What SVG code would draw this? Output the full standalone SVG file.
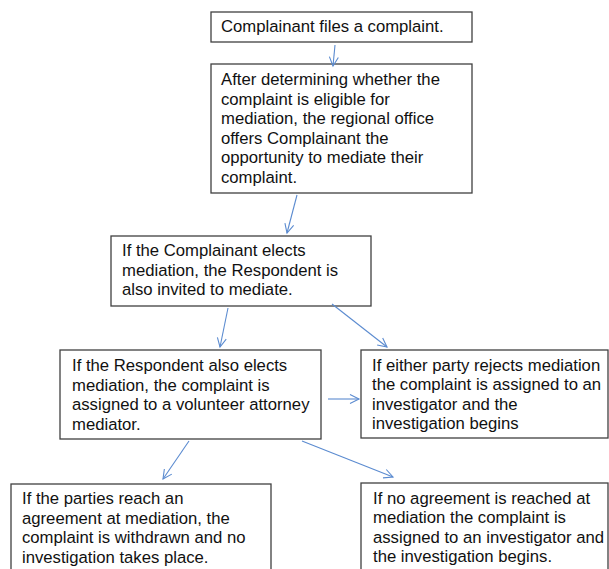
<svg xmlns="http://www.w3.org/2000/svg" width="609" height="569" viewBox="0 0 609 569">
<style>
  .box { fill: #ffffff; stroke: #404040; stroke-width: 1.3; }
  .t { font-family: "Liberation Sans", Arial, sans-serif; font-size: 16.7px; fill: #111111; }
  .c { stroke: #5b8bd0; stroke-width: 1.1; fill: none; marker-end: url(#ah); }
</style>
<defs>
  <marker id="ah" markerUnits="userSpaceOnUse" markerWidth="12" markerHeight="12" viewBox="0 0 12 12" refX="10" refY="6" orient="auto">
    <path d="M1,1.5 L10,6 L1,10.5" fill="none" stroke="#5b8bd0" stroke-width="1.1"/>
  </marker>
</defs>
<rect width="609" height="569" fill="#ffffff"/>
<g id="n1">
  <rect class="box" x="211" y="12" width="261" height="30"/>
  <text class="t" x="221" y="32">Complainant files a complaint.</text>
</g>
<g id="n2">
  <rect class="box" x="211" y="64" width="261" height="129"/>
  <text class="t" x="221" y="85">After determining whether the</text>
  <text class="t" x="221" y="104.5">complaint is eligible for</text>
  <text class="t" x="221" y="124">mediation, the regional office</text>
  <text class="t" x="221" y="143.5">offers Complainant the</text>
  <text class="t" x="221" y="163">opportunity to mediate their</text>
  <text class="t" x="221" y="182.5">complaint.</text>
</g>
<g id="n3">
  <rect class="box" x="111" y="236" width="260" height="70"/>
  <text class="t" x="122" y="256">If the Complainant elects</text>
  <text class="t" x="122" y="275.5">mediation, the Respondent is</text>
  <text class="t" x="122" y="295">also invited to mediate.</text>
</g>
<g id="n4">
  <rect class="box" x="60" y="350" width="261" height="89"/>
  <text class="t" x="72" y="371">If the Respondent also elects</text>
  <text class="t" x="72" y="390.5">mediation, the complaint is</text>
  <text class="t" x="72" y="410">assigned to a volunteer attorney</text>
  <text class="t" x="72" y="429.5">mediator.</text>
</g>
<g id="n5">
  <rect class="box" x="361" y="350" width="247" height="88"/>
  <text class="t" x="372" y="370.5">If either party rejects mediation</text>
  <text class="t" x="372" y="390">the complaint is assigned to an</text>
  <text class="t" x="372" y="409.5">investigator and the</text>
  <text class="t" x="372" y="429">investigation begins</text>
</g>
<g id="n6">
  <rect class="box" x="11" y="484" width="260" height="95"/>
  <text class="t" x="22" y="504">If the parties reach an</text>
  <text class="t" x="22" y="523.5">agreement at mediation, the</text>
  <text class="t" x="22" y="543">complaint is withdrawn and no</text>
  <text class="t" x="22" y="562.5">investigation takes place.</text>
</g>
<g id="n7">
  <rect class="box" x="361" y="483" width="247" height="96"/>
  <text class="t" x="373" y="503.5">If no agreement is reached at</text>
  <text class="t" x="373" y="523">mediation the complaint is</text>
  <text class="t" x="373" y="542.5">assigned to an investigator and</text>
  <text class="t" x="373" y="562">the investigation begins.</text>
</g>
<g id="connectors">
  <line class="c" x1="335" y1="45" x2="333" y2="66"/>
  <line class="c" x1="297" y1="195" x2="287" y2="233"/>
  <line class="c" x1="228" y1="308" x2="220" y2="347"/>
  <line class="c" x1="332" y1="304" x2="387" y2="347"/>
  <line class="c" x1="328" y1="399" x2="359" y2="399"/>
  <line class="c" x1="189" y1="441" x2="163" y2="479"/>
  <line class="c" x1="302" y1="441" x2="393" y2="477"/>
</g>
</svg>
